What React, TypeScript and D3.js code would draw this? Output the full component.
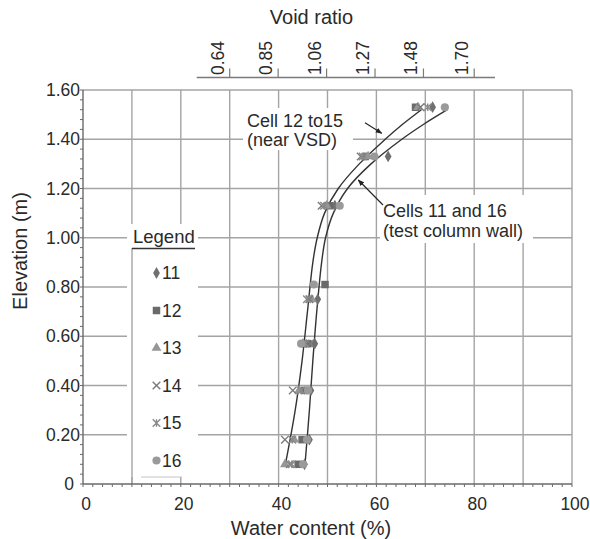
import React from "react";
import * as d3 from "d3";

// ---- data ----
const elevA = [0.08, 0.18, 0.38, 0.57, 0.75, 1.13, 1.33, 1.53];
const elevB = [0.08, 0.18, 0.38, 0.57, 0.81, 1.13, 1.33, 1.53];
const cell11W = [45.3, 46.3, 46.6, 47.4, 48.0, 51.5, 62.4, 71.5];
const cell12W = [44.0, 44.8, 45.3, 46.0, 49.5, 50.4, 57.7, 68.0];
const cell13W = [41.3, 43.2, 44.2, 45.0, 46.8, 49.8, 58.3, 68.5];
const cell14W = [42.3, 41.3, 42.9, 46.4, 46.3, 48.8, 56.8, 69.0];
const cell15W = [42.7, 42.8, 44.6, 45.5, 45.8, 49.3, 57.2, 70.5];
const cell16W = [45.0, 45.8, 46.0, 44.6, 47.2, 52.5, 59.6, 74.0];

// fitted curves
const curveVsdE = [0.07, 0.3, 0.5, 0.7, 0.9, 1.0, 1.1, 1.2, 1.3, 1.4, 1.46, 1.52];
const curveVsdW = [41.3, 43.4, 44.8, 45.9, 47.0, 47.9, 49.4, 52.2, 56.5, 61.8, 65.3, 69.2];
const curveWallE = [0.08, 0.3, 0.5, 0.7, 0.9, 1.0, 1.1, 1.2, 1.3, 1.4, 1.46, 1.52];
const curveWallW = [45.4, 46.3, 47.0, 47.8, 48.8, 49.6, 51.2, 54.1, 58.9, 65.2, 69.6, 74.5];

const xTicks = [0, 20, 40, 60, 80, 100];
const yTicks = [0, 0.2, 0.4, 0.6, 0.8, 1.0, 1.2, 1.4, 1.6];
const voidTicks = [0.64, 0.85, 1.06, 1.27, 1.48, 1.70];
const legendNames = ["11", "12", "13", "14", "15", "16"];

const FONT = "'Liberation Sans', Arial, sans-serif";

type Shape = "diamond" | "square" | "triangle" | "cross" | "star" | "circle";

function Marker({ shape, cx, cy, color }: { shape: Shape; cx: number; cy: number; color: string }) {
  if (shape === "cross" || shape === "star") {
    const r = 3.8;
    const d =
      `M${cx - r},${cy - r}L${cx + r},${cy + r}M${cx - r},${cy + r}L${cx + r},${cy - r}` +
      (shape === "star" ? `M${cx},${cy - r}L${cx},${cy + r}` : "");
    return <path d={d} stroke={color} strokeWidth={1.4} fill="none" />;
  }
  const type =
    shape === "diamond" ? d3.symbolDiamond :
    shape === "square" ? d3.symbolSquare :
    shape === "triangle" ? d3.symbolTriangle : d3.symbolCircle;
  const size = shape === "diamond" ? 40 : shape === "square" ? 56 : shape === "triangle" ? 42 : 52;
  const p = d3.symbol().type(type).size(size)();
  return <path d={p as string} transform={`translate(${cx},${cy})`} fill={color} />;
}

export default function App() {
  const x = d3.scaleLinear().domain([0, 100]).range([83, 572]);
  const y = d3.scaleLinear().domain([0, 1.6]).range([484, 90]);
  const xv = d3.scaleLinear().domain([0.64, 1.7]).range([x(30), x(80)]);

  const series: { name: string; w: number[]; e: number[]; shape: Shape; color: string }[] = [
    { name: legendNames[0], w: cell11W, e: elevA, shape: "diamond", color: "#707070" },
    { name: legendNames[1], w: cell12W, e: elevB, shape: "square", color: "#6a6a6a" },
    { name: legendNames[2], w: cell13W, e: elevA, shape: "triangle", color: "#969696" },
    { name: legendNames[3], w: cell14W, e: elevA, shape: "cross", color: "#7a7a7a" },
    { name: legendNames[4], w: cell15W, e: elevA, shape: "star", color: "#8a8a8a" },
    { name: legendNames[5], w: cell16W, e: elevB, shape: "circle", color: "#9a9a9a" },
  ];

  const line = d3
    .line<[number, number]>()
    .x((d) => x(d[0]))
    .y((d) => y(d[1]))
    .curve(d3.curveCatmullRom.alpha(0.5));

  const vsd = curveVsdW.map((w, i) => [w, curveVsdE[i]] as [number, number]);
  const wall = curveWallW.map((w, i) => [w, curveWallE[i]] as [number, number]);

  const grid = "#a4a4a4";
  const txt = "#2a2a2a";

  const vGrid = d3.range(10, 101, 10);
  const hGrid = d3.range(1, 9).map((i) => i * 0.2);
  const xMinor = d3.range(0, 101, 2);
  const yMinor = d3.range(0, 41).map((i) => i * 0.04);

  return (
    <svg width={590} height={539} style={{ position: "absolute", left: 0, top: 0, background: "#fff" }} fontFamily={FONT}>
      <rect x={0} y={0} width={590} height={539} fill="#fff" />
      {/* gridlines */}
      {vGrid.map((v) => (
        <line key={"vg" + v} x1={x(v)} x2={x(v)} y1={y(1.6)} y2={y(0)} stroke={grid} strokeWidth={1.4} />
      ))}
      {hGrid.map((v) => (
        <line key={"hg" + v} x1={x(0)} x2={x(100)} y1={y(v)} y2={y(v)} stroke={grid} strokeWidth={1.4} />
      ))}

      {/* white boxes behind legend and annotations */}
      <rect x={127} y={224} width={71} height={253} fill="#fff" />
      <line x1={132} x2={132} y1={248} y2={484} stroke={grid} strokeWidth={1.4} />
      <line x1={141} x2={182} y1={477} y2={477} stroke="#c4c4c4" strokeWidth={1} />
      <rect x={243} y={108} width={110} height={42} fill="#fff" />
      <rect x={380} y={195} width={153} height={48} fill="#fff" />

      {/* axes */}
      <line x1={x(0)} x2={x(0)} y1={y(1.6)} y2={y(0)} stroke="#6a6a6a" strokeWidth={1.4} />
      <line x1={x(0)} x2={x(100)} y1={y(0)} y2={y(0)} stroke="#6a6a6a" strokeWidth={1.4} />
      {yMinor.map((v, i) => (
        <line key={"ym" + i} x1={x(0) - 3} x2={x(0)} y1={y(v)} y2={y(v)} stroke="#6a6a6a" strokeWidth={1} />
      ))}
      {xMinor.map((v) => (
        <line key={"xm" + v} x1={x(v)} x2={x(v)} y1={y(0)} y2={y(0) + 3} stroke="#6a6a6a" strokeWidth={1} />
      ))}
      {yTicks.map((v) => (
        <text key={"yt" + v} x={v === 0 ? 74 : 80} y={y(v) + 6} textAnchor="end" fontSize={17.5} fill={txt}>
          {v === 0 ? "0" : v.toFixed(2)}
        </text>
      ))}
      {xTicks.map((v) => (
        <text key={"xt" + v} x={x(v) + 3} y={510} textAnchor="middle" fontSize={17.5} fill={txt}>
          {v}
        </text>
      ))}
      <text x={311} y={535} textAnchor="middle" fontSize={20} fill={txt}>
        Water content (%)
      </text>
      <text transform={`translate(27,251) rotate(-90)`} textAnchor="middle" fontSize={20} fill={txt}>
        Elevation (m)
      </text>

      {/* top void ratio axis */}
      <line x1={xv(0.497)} x2={xv(1.79)} y1={77.5} y2={77.5} stroke="#7a7a7a" strokeWidth={1.3} />
      {voidTicks.map((v) => (
        <g key={"vt" + v}>
          <line x1={xv(v)} x2={xv(v)} y1={77.5} y2={68.5} stroke="#7a7a7a" strokeWidth={1.2} />
          <text
            transform={`translate(${xv(v) - 6},75) rotate(-90)`}
            textAnchor="start"
            fontSize={17.5}
            fill={txt}
          >
            {v.toFixed(2)}
          </text>
        </g>
      ))}
      <text x={311.5} y={24} textAnchor="middle" fontSize={20} fill={txt}>
        Void ratio
      </text>

      {/* curves */}
      <path d={line(vsd) as string} fill="none" stroke="#333" strokeWidth={1.4} />
      <path d={line(wall) as string} fill="none" stroke="#333" strokeWidth={1.4} />

      {/* markers */}
      {series.map((s) =>
        s.w.map((w, i) => (
          <Marker key={s.name + "-" + i} shape={s.shape} cx={x(w)} cy={y(s.e[i])} color={s.color} />
        ))
      )}

      {/* annotations */}
      <defs>
        <marker id="arr" viewBox="0 0 10 10" refX={9} refY={5} markerWidth={6} markerHeight={6} orient="auto">
          <path d="M0,1L10,5L0,9Z" fill="#222" />
        </marker>
      </defs>
      <text x={247} y={127} fontSize={18} fill={txt}>
        Cell 12 to15
      </text>
      <text x={247} y={146} fontSize={18} fill={txt}>
        (near VSD)
      </text>
      <line x1={365} y1={122.7} x2={381.7} y2={133.3} stroke="#222" strokeWidth={1.1} markerEnd="url(#arr)" />
      <text x={383} y={217} fontSize={18} fill={txt}>
        Cells 11 and 16
      </text>
      <text x={383} y={237} fontSize={18} fill={txt}>
        (test column wall)
      </text>
      <line x1={383} y1={205} x2={358.3} y2={180} stroke="#222" strokeWidth={1.1} markerEnd="url(#arr)" />

      {/* legend */}
      <text x={133} y={243} fontSize={18.5} fill={txt}>
        Legend
      </text>
      <line x1={132} x2={195} y1={248.5} y2={248.5} stroke="#333" strokeWidth={1.5} />
      {series.map((s, i) => {
        const cy = 273 + i * 37.5;
        return (
          <g key={"lg" + s.name}>
            <Marker shape={s.shape} cx={156.5} cy={cy} color={s.color} />
            <text x={162} y={cy + 6} fontSize={17.5} fill={txt}>
              {s.name}
            </text>
          </g>
        );
      })}
    </svg>
  );
}
